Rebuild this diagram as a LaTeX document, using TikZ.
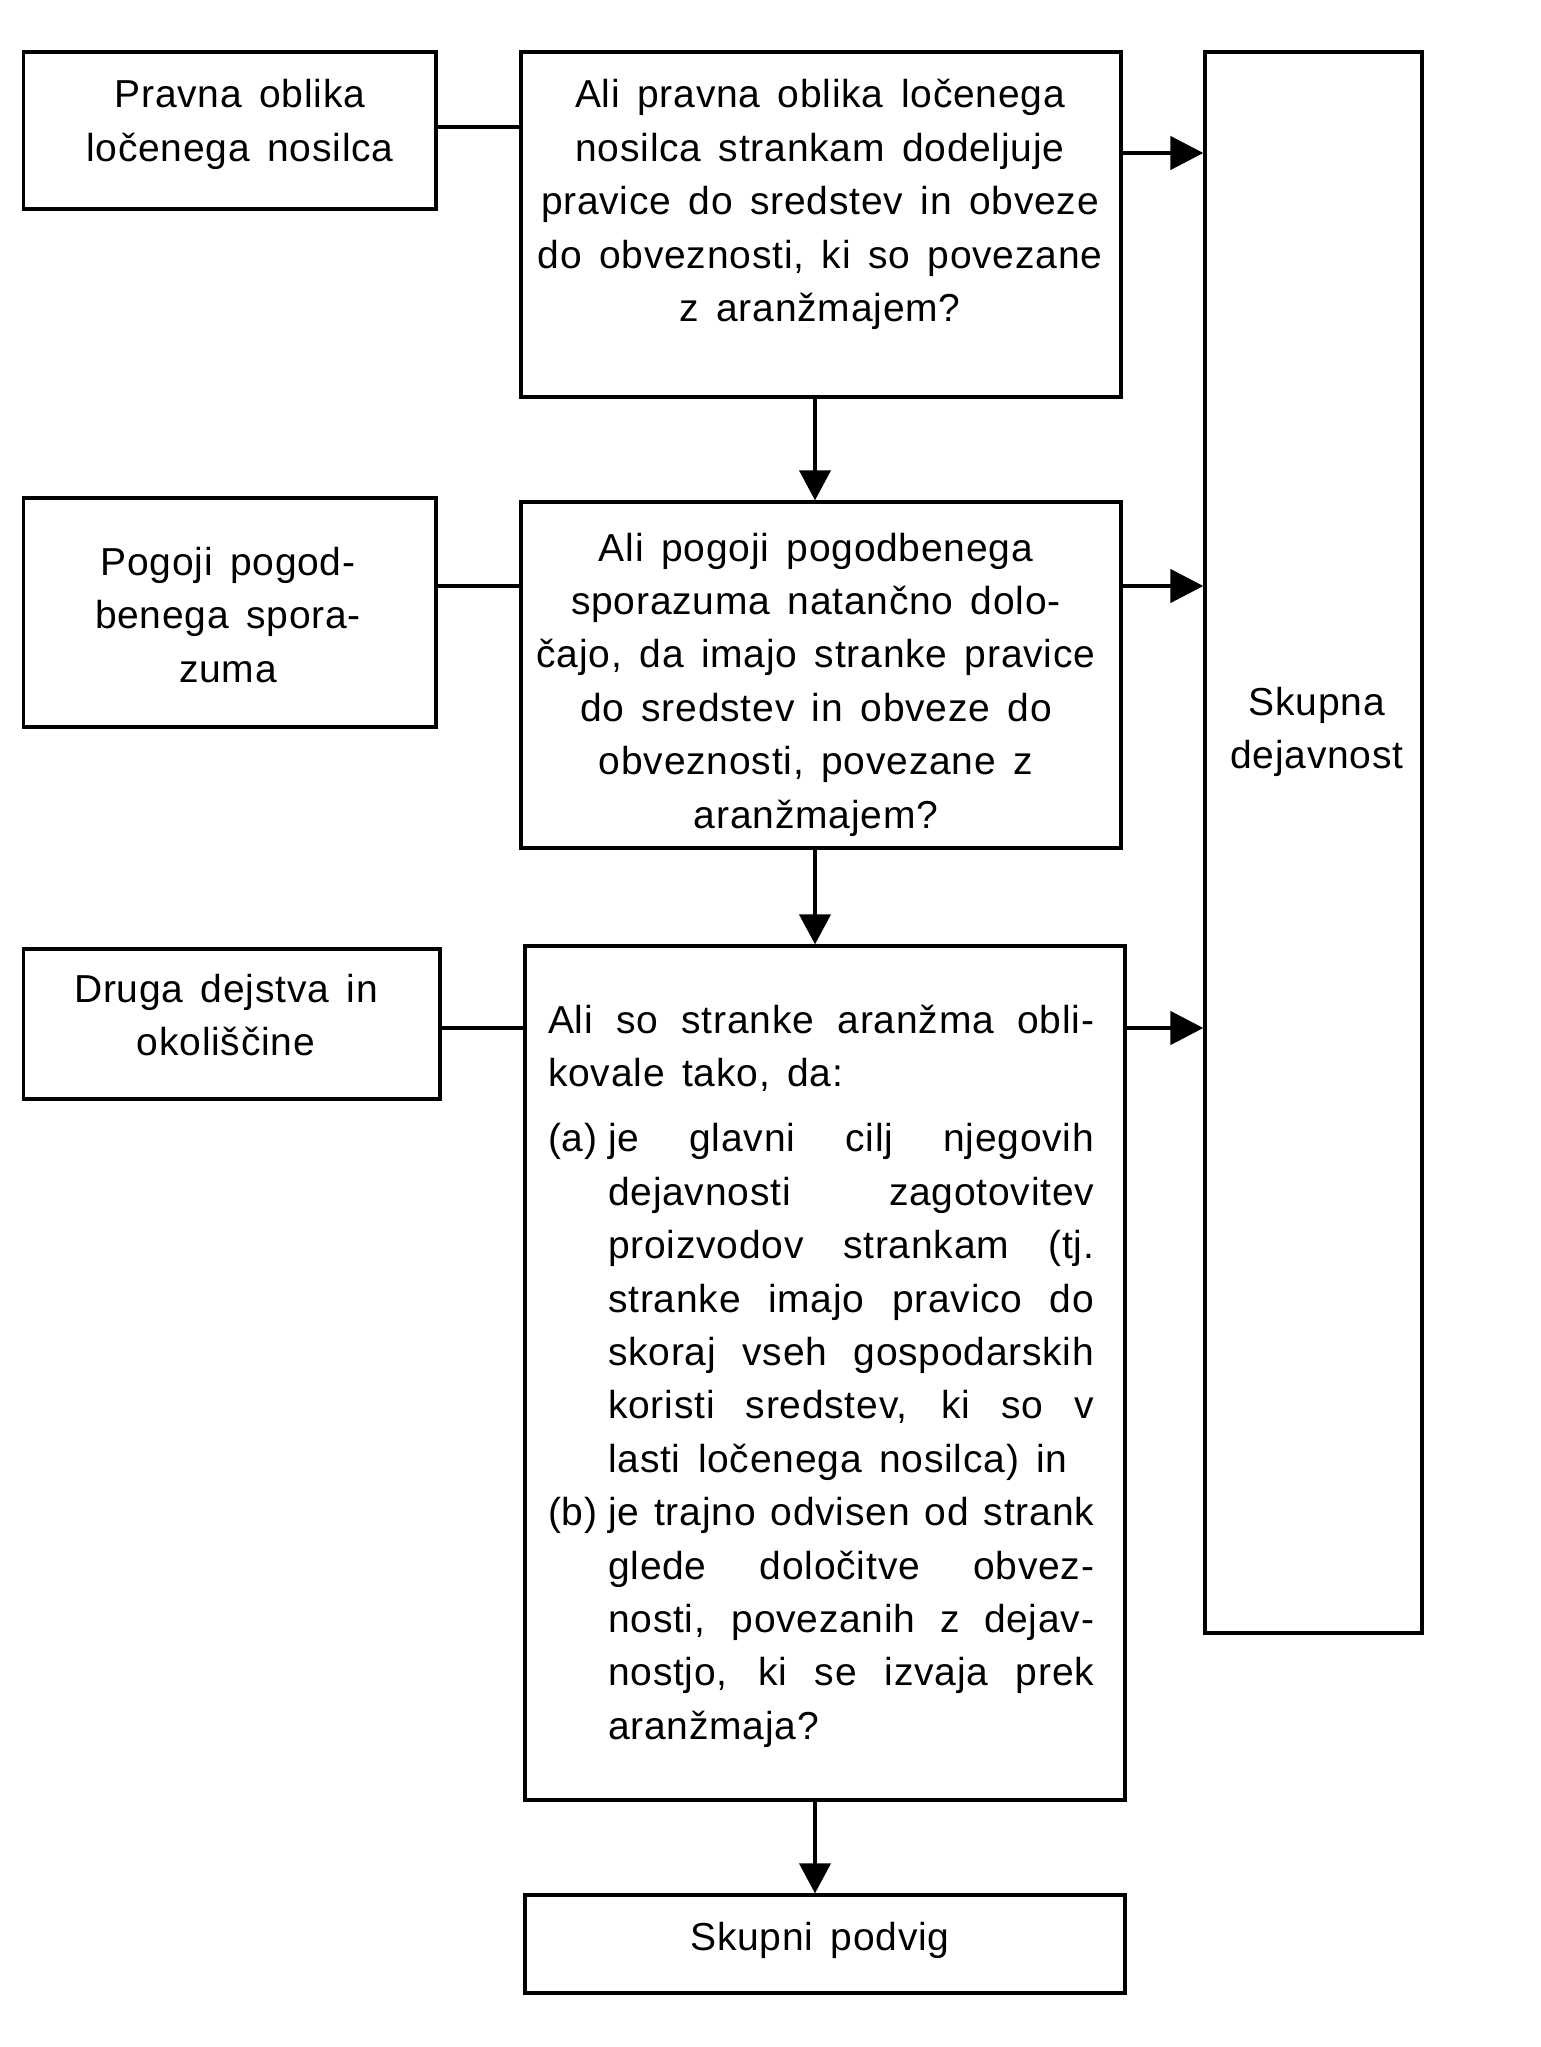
\documentclass[tikz,border=0pt]{standalone}
\usepackage{fontspec}
\setmainfont{Liberation Sans}[LetterSpace=2,WordSpace={1.5,1,2}]
\usetikzlibrary{arrows.meta}
\begin{document}
\begin{tikzpicture}[x=1pt,y=-1pt,
  box/.style={draw, line width=3.3pt, inner sep=0pt, rectangle},
  txt/.style={inner sep=0pt, font=\fontsize{39pt}{53.4pt}\selectfont},
  conn/.style={line width=3.3pt},
  harrow/.style={line width=4.7pt, -{Triangle[length=33pt,width=33pt]}},
  varrow/.style={line width=4pt, -{Triangle[length=30pt,width=31pt]}}]
\fill[white] (0,0) rectangle (1540,2047);
\useasboundingbox (0,0) rectangle (1540,2047);

% boxes
\node[box, minimum width=412.5pt, minimum height=157pt] (A) at (229.75,130.5) {};
\node[box, minimum width=600pt, minimum height=345pt] (B) at (821,224.5) {};
\node[box, minimum width=217pt, minimum height=1581pt] (R) at (1313.5,842.5) {};
\node[box, minimum width=412.5pt, minimum height=229pt] (C) at (229.75,612.5) {};
\node[box, minimum width=600pt, minimum height=346pt] (D) at (821,675) {};
\node[box, minimum width=416.5pt, minimum height=150pt] (E) at (231.75,1024) {};
\node[box, minimum width=600pt, minimum height=854pt] (F) at (825,1373) {};
\node[box, minimum width=600pt, minimum height=98pt] (G) at (825,1944) {};

% texts
\node[txt, anchor=base] (At) at (240,108) {\parbox[t]{400pt}{\centering Pravna oblika\\ločenega nosilca}};
\node[txt, anchor=base] (Bt) at (820,108) {\parbox[t]{590pt}{\centering Ali pravna oblika ločenega\\nosilca strankam dodeljuje\\pravice do sredstev in obveze\\do obveznosti, ki so povezane\\z aranžmajem?}};
\node[txt, anchor=base] (Ct) at (228,575.5) {\parbox[t]{400pt}{\centering Pogoji pogod-\\benega spora-\\zuma}};
\node[txt, anchor=base] (Dt) at (816,561) {\parbox[t]{590pt}{\centering Ali pogoji pogodbenega\\sporazuma natančno dolo-\\čajo, da imajo stranke pravice\\do sredstev in obveze do\\obveznosti, povezane z\\aranžmajem?}};
\node[txt, anchor=base] (Et) at (226,1002) {\parbox[t]{400pt}{\centering Druga dejstva in\\okoliščine}};
\node[txt, anchor=base] (Rt) at (1317,715) {\parbox[t]{210pt}{\centering Skupna\\dejavnost}};
\node[txt, anchor=base] (Gt) at (820,1950) {\parbox[t]{590pt}{\centering Skupni podvig}};
\node[txt, anchor=base west] (Ft) at (548,1033.5) {\parbox[t]{546pt}{%
\makebox[546pt][s]{Ali so stranke aranžma obli-}\\
kovale tako, da:\\[11.6pt]
\makebox[60pt][l]{(a)}\makebox[486pt][s]{je glavni cilj njegovih}\\
\hspace*{60pt}\makebox[486pt][s]{dejavnosti zagotovitev}\\
\hspace*{60pt}\makebox[486pt][s]{proizvodov strankam (tj.}\\
\hspace*{60pt}\makebox[486pt][s]{stranke imajo pravico do}\\
\hspace*{60pt}\makebox[486pt][s]{skoraj vseh gospodarskih}\\
\hspace*{60pt}\makebox[486pt][s]{koristi sredstev, ki so v}\\
\hspace*{60pt}lasti ločenega nosilca) in\\
\makebox[60pt][l]{(b)}\makebox[486pt][s]{je trajno odvisen od strank}\\
\hspace*{60pt}\makebox[486pt][s]{glede določitve obvez-}\\
\hspace*{60pt}\makebox[486pt][s]{nosti, povezanih z dejav-}\\
\hspace*{60pt}\makebox[486pt][s]{nostjo, ki se izvaja prek}\\
\hspace*{60pt}aranžmaja?}};

% levels
\coordinate (y1) at (0,127);
\coordinate (y1b) at (0,153);
\coordinate (y2) at (0,586);
\coordinate (y3) at (0,1028);
\coordinate (vx) at (815,0);

% connectors
\draw[conn] (A.east |- y1) -- (B.west |- y1);
\draw[harrow] (B.east |- y1b) -- (R.west |- y1b);
\draw[conn] (C.east |- y2) -- (D.west |- y2);
\draw[harrow] (D.east |- y2) -- (R.west |- y2);
\draw[conn] (E.east |- y3) -- (F.west |- y3);
\draw[harrow] (F.east |- y3) -- (R.west |- y3);
\draw[varrow] (B.south -| vx) -- (D.north -| vx);
\draw[varrow] (D.south -| vx) -- (F.north -| vx);
\draw[varrow] (F.south -| vx) -- (G.north -| vx);
\end{tikzpicture}
\end{document}
